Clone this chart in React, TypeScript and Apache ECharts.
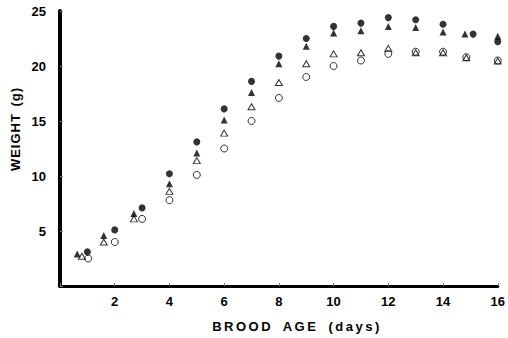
import React, { useEffect, useRef } from "react";
import * as echarts from "echarts";

// Brood age (days) and weight (g) for each group
const filledCircleAge = [1, 2, 3, 4, 5, 6, 7, 8, 9, 10, 11, 12, 13, 14, 15.1, 16];
const filledCircleWeight = [3.1, 5.1, 7.1, 10.2, 13.1, 16.1, 18.6, 20.9, 22.5, 23.6, 23.9, 24.4, 24.2, 23.8, 22.9, 22.2];

const filledTriangleAge = [0.63, 1.6, 2.7, 4, 5, 6, 7, 8, 9, 10, 11, 12, 13, 14, 14.8, 16];
const filledTriangleWeight = [2.9, 4.6, 6.6, 9.3, 12.1, 15.1, 17.6, 20.2, 21.8, 23.0, 23.2, 23.6, 23.5, 23.1, 22.9, 22.7];

const openTriangleAge = [0.8, 1.6, 2.7, 4, 5, 6, 7, 8, 9, 10, 11, 12, 13, 14, 14.85, 16];
const openTriangleWeight = [2.7, 4.0, 6.1, 8.6, 11.4, 13.9, 16.3, 18.5, 20.2, 21.1, 21.2, 21.6, 21.2, 21.2, 20.75, 20.45];

const openCircleAge = [1.03, 2, 3, 4, 5, 6, 7, 8, 9, 10, 11, 12, 13, 14, 14.85, 16];
const openCircleWeight = [2.5, 4.0, 6.1, 7.8, 10.1, 12.5, 15.0, 17.1, 19.0, 20.0, 20.5, 21.1, 21.3, 21.3, 20.8, 20.5];

const xTitle = "BROOD AGE (days)";
const yTitle = "WEIGHT (g)";

const pairs = (xs: number[], ys: number[]) => xs.map((x, i) => [x, ys[i]]);

const FONT = '"Liberation Sans", Arial, Helvetica, sans-serif';

export default function App() {
  const ref = useRef<HTMLDivElement>(null);

  useEffect(() => {
    const el = ref.current;
    if (!el) return;
    const chart = echarts.init(el, null, { renderer: "svg" });

    const labelStyle = {
      color: "#000",
      fontFamily: FONT,
      fontWeight: "bold" as const,
      fontSize: 13,
    };

    chart.setOption({
      animation: false,
      grid: { left: 60, right: 8, top: 11, bottom: 52 },
      xAxis: {
        type: "value",
        min: 0,
        max: 16,
        interval: 2,
        axisLine: { show: true, lineStyle: { color: "#000", width: 3 } },
        axisTick: { show: true, inside: true, length: 3, lineStyle: { color: "#777", width: 1 } },
        axisLabel: {
          ...labelStyle,
          margin: 9,
          formatter: (v: number) => (v === 0 ? "" : String(v)),
        },
        splitLine: { show: false },
      },
      yAxis: {
        type: "value",
        min: 0,
        max: 25,
        interval: 5,
        axisLine: { show: true, lineStyle: { color: "#000", width: 4 } },
        axisTick: { show: true, inside: true, length: 3, lineStyle: { color: "#777", width: 1 } },
        axisLabel: {
          ...labelStyle,
          margin: 14,
          formatter: (v: number) => (v === 0 ? "" : String(v)),
        },
        splitLine: { show: false },
      },
      graphic: [
        {
          type: "text",
          x: 297,
          y: 326,
          style: {
            text: xTitle,
            font: `bold 13px ${FONT}`,
            fill: "#000",
            align: "center",
            verticalAlign: "middle",
            textAlign: "center",
            textVerticalAlign: "middle",
          },
        },
        {
          type: "text",
          x: 15,
          y: 129,
          rotation: Math.PI / 2,
          style: {
            text: yTitle,
            font: `bold 13px ${FONT}`,
            fill: "#000",
            align: "center",
            verticalAlign: "middle",
            textAlign: "center",
            textVerticalAlign: "middle",
          },
        },
      ],
      series: [
        {
          type: "scatter",
          name: "open circle",
          data: pairs(openCircleAge, openCircleWeight),
          symbol: "circle",
          symbolSize: 7,
          itemStyle: { color: "rgba(0,0,0,0)", borderColor: "#000", borderWidth: 1 },
        },
        {
          type: "scatter",
          name: "open triangle",
          data: pairs(openTriangleAge, openTriangleWeight),
          symbol: "triangle",
          symbolSize: [7, 6],
          itemStyle: { color: "rgba(0,0,0,0)", borderColor: "#000", borderWidth: 1 },
        },
        {
          type: "scatter",
          name: "filled triangle",
          data: pairs(filledTriangleAge, filledTriangleWeight),
          symbol: "triangle",
          symbolSize: [7, 7],
          itemStyle: { color: "#000" },
        },
        {
          type: "scatter",
          name: "filled circle",
          data: pairs(filledCircleAge, filledCircleWeight),
          symbol: "circle",
          symbolSize: 7,
          itemStyle: { color: "#000" },
        },
      ],
    });

    const applySpacing = () => {
      el.querySelectorAll("text").forEach((t) => {
        const s = t.textContent;
        if (s === xTitle) {
          t.setAttribute("letter-spacing", "2.5");
          t.setAttribute("word-spacing", "4");
        } else if (s === yTitle) {
          t.setAttribute("letter-spacing", "1");
          t.setAttribute("word-spacing", "2");
        }
      });
    };
    applySpacing();
    chart.on("finished", applySpacing);

    return () => {
      chart.dispose();
    };
  }, []);

  return (
    <div
      ref={ref}
      style={{ position: "absolute", left: 0, top: 0, width: 508, height: 338 }}
    />
  );
}
